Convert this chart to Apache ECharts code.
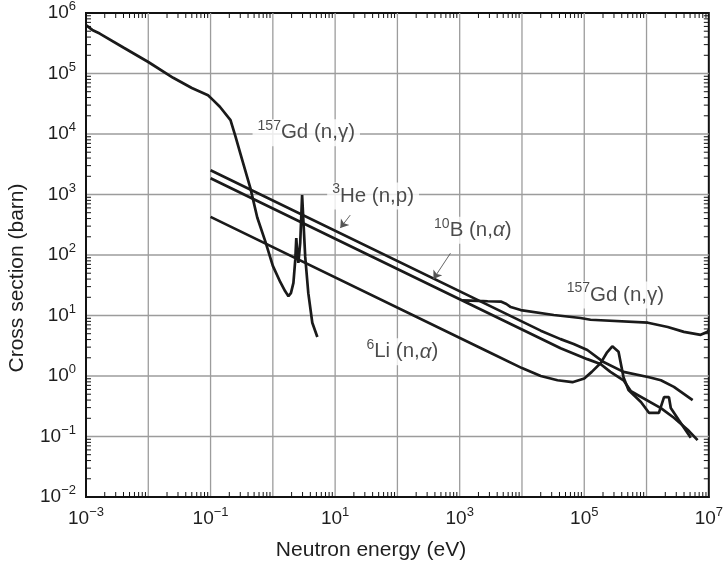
<!DOCTYPE html>
<html>
<head>
<meta charset="utf-8">
<script src="https://cdn.jsdelivr.net/npm/echarts@6/dist/echarts.min.js"></script>
<style>html,body{margin:0;padding:0;background:#fff}#c{width:726px;height:565px}</style>
</head>
<body>
<div id="c"></div>
<script>
// ---- Data (energy in eV, cross section in barn) ----
const gdLowE = [1e-3, 1.26e-3, 1.66e-3, 3.98e-3, 1e-2, 2.51e-2, 5.0e-2, 9.1e-2, 0.11, 0.141, 0.209, 0.251, 0.302, 0.437, 0.562, 0.759, 1.0, 1.32, 1.58, 1.78, 1.95, 2.14, 2.29, 2.38, 2.45, 2.57, 2.75, 2.95, 3.31, 3.71, 4.30, 5.18];
const gdLowS = [6.3e5, 5.25e5, 4.57e5, 2.69e5, 1.55e5, 8.5e4, 5.75e4, 4.37e4, 3.63e4, 2.82e4, 1.70e4, 9.1e3, 4.68e3, 1.26e3, 417, 166, 66, 35.5, 25.1, 20.9, 23.4, 34.7, 83, 190, 120, 74, 158, 977, 93, 23.4, 7.6, 4.4];

const gdHighE = [1100, 2.0e3, 2.82e3, 4.57e3, 5.62e3, 6.6e3, 9.55e3, 3.24e4, 8.7e4, 1.26e5, 1.05e6, 2.19e6, 3.98e6, 7.4e6, 9.55e6, 1e7];
const gdHighS = [17.8, 17.4, 17.2, 17.0, 15.5, 13.8, 12.3, 10.2, 9.1, 8.5, 7.6, 6.46, 5.37, 4.79, 5.37, 5.75];

const heE = [0.1, 2.0e4, 4.17e4, 6.76e4, 1.12e5, 2.04e5, 4.27e5, 1.10e6, 1.70e6, 2.75e6, 5.5e6];
const heS = [2510, 5.62, 4.07, 3.39, 2.69, 1.70, 1.17, 0.955, 0.851, 0.661, 0.398];

const bE = [0.1, 4.17e4, 1.12e5, 1.82e5, 2.63e5, 4.27e5, 5.62e5, 1.70e6, 2.75e6, 4.57e6, 6.6e6];
const bS = [1860, 2.88, 1.9, 1.58, 1.17, 0.85, 0.56, 0.295, 0.204, 0.129, 0.087];

const liE = [0.1, 3.16e3, 1e4, 2.0e4, 3.72e4, 6.46e4, 1e5, 1.32e5, 1.82e5, 2.29e5, 2.82e5, 3.55e5, 4.27e5, 5.13e5, 8.13e5, 1.10e6, 1.58e6, 1.91e6, 2.29e6, 2.45e6, 3.31e6, 5.13e6];
const liS = [427, 2.4, 1.35, 1.0, 0.85, 0.79, 0.91, 1.17, 1.62, 2.4, 3.09, 2.51, 0.955, 0.589, 0.372, 0.245, 0.245, 0.447, 0.447, 0.295, 0.186, 0.0955];

// annotation labels (positions in data units)
const annotE = [3.44, 40.7, 1622, 3.16e5, 120];
const annotS = [1.05e4, 944, 257, 21.9, 2.51];
const annotText = ['{s|157}{t|Gd (n,γ)}', '{s|3}{t|He (n,p)}', '{s|10}{t|B (n,}{i|α}{t|)}', '{s|157}{t|Gd (n,γ)}', '{s|6}{t|Li (n,}{i|α}{t|)}'];

// pointer lines [fromE, fromS, toE, toS]
const heArrow = [17.5, 457, 12.1, 279];
const bArrow = [711, 107, 379, 40.1];

// axis extents (decades)
const xMin = 1e-3, xMax = 1e7, yMin = 1e-2, yMax = 1e6;
const xDecades = [1e-3, 1e-2, 1e-1, 1, 10, 100, 1e3, 1e4, 1e5, 1e6, 1e7];
const yDecades = [1e-2, 1e-1, 1, 10, 100, 1e3, 1e4, 1e5, 1e6];
const xLabelDecades = [1e-3, 1e-1, 10, 1e3, 1e5, 1e7];
// minor tick multipliers
const minorMult = [2, 3, 4, 5, 6, 7, 8, 9];

function zip(a, b) { return a.map((v, i) => [v, b[i]]); }
function sup(e) { return e < 0 ? '\u2212' + Math.abs(e) : '' + e; }

const minorData = [];
xDecades.slice(0, -1).forEach(d => minorMult.forEach(k => minorData.push([k * d, 1, 0])));
yDecades.slice(0, -1).forEach(d => minorMult.forEach(k => minorData.push([1, k * d, 1])));
const gridData = [];
xDecades.slice(1, -1).forEach(d => gridData.push([d, 1, 0]));
yDecades.slice(1, -1).forEach(d => gridData.push([1, d, 1]));

const FONT = 'Liberation Sans, Arial, Helvetica, sans-serif';
const TXT = '#1e1e1e';
const LINE = '#1a1a1a';
const tickRich = {
  b: { fontSize: 19, fontFamily: FONT, color: TXT, lineHeight: 26 },
  s: { fontSize: 13, fontFamily: FONT, color: TXT, lineHeight: 13, verticalAlign: 'top' }
};
const annRich = {
  t: { fontSize: 20.5, fontFamily: FONT, color: TXT, lineHeight: 27 },
  i: { fontSize: 20.5, fontFamily: FONT, color: TXT, fontStyle: 'italic', lineHeight: 27 },
  s: { fontSize: 14, fontFamily: FONT, color: TXT, lineHeight: 14, verticalAlign: 'top' }
};

const lineSeries = (name, E, S) => ({
  name: name, type: 'line', data: zip(E, S), showSymbol: false, symbol: 'none',
  lineStyle: { color: LINE, width: 2.7 }, z: 3, silent: true, animation: false
});

function decadeLabel(v) {
  const e = Math.round(Math.log10(v));
  return '{b|10}{s|' + sup(e) + '}';
}

const chart = echarts.init(document.getElementById('c'), null, { renderer: 'canvas' });
chart.setOption({
  animation: false,
  backgroundColor: '#fff',
  grid: { left: 86, right: 17, top: 13, bottom: 68, show: true, borderColor: '#111', borderWidth: 2, backgroundColor: 'transparent' },
  xAxis: {
    type: 'log', logBase: 10, min: xMin, max: xMax,
    axisLine: { show: true, onZero: false, lineStyle: { color: '#111', width: 2 } },
    axisTick: { show: false },
    splitLine: { show: false },
    axisLabel: {
      margin: 9, rich: tickRich,
      customValues: xLabelDecades,
      formatter: decadeLabel
    }
  },
  yAxis: {
    type: 'log', logBase: 10, min: yMin, max: yMax,
    axisLine: { show: true, onZero: false, lineStyle: { color: '#111', width: 2 } },
    axisTick: { show: false },
    splitLine: { show: false },
    axisLabel: {
      margin: 10, rich: tickRich,
      customValues: yDecades,
      formatter: decadeLabel
    }
  },
  graphic: [
    { type: 'text', x: 17, y: 278, rotation: Math.PI / 2,
      style: { text: 'Cross section (barn)', textAlign: 'center', textVerticalAlign: 'middle', font: '21px ' + FONT, fill: TXT } },
    { type: 'text', x: 371, y: 550,
      style: { text: 'Neutron energy (eV)', textAlign: 'center', textVerticalAlign: 'middle', font: '21px ' + FONT, fill: TXT } }
  ],
  series: [
    {
      type: 'custom', name: 'gridLines', silent: true, z: 0, data: gridData,
      encode: { x: 0, y: 1 },
      renderItem: function (params, api) {
        const v0 = api.value(0), v1 = api.value(1), kind = api.value(2);
        const st = { stroke: '#9c9c9c', lineWidth: 1.3 };
        if (kind === 0) {
          const b = api.coord([v0, yMin]), t = api.coord([v0, yMax]);
          return { type: 'line', shape: { x1: b[0], y1: b[1], x2: t[0], y2: t[1] }, style: st };
        }
        const l = api.coord([xMin, v1]), r = api.coord([xMax, v1]);
        return { type: 'line', shape: { x1: l[0], y1: l[1], x2: r[0], y2: r[1] }, style: st };
      }
    },
    {
      type: 'custom', name: 'minorTicks', silent: true, z: 4, data: minorData,
      encode: { x: 0, y: 1 },
      renderItem: function (params, api) {
        const v0 = api.value(0), v1 = api.value(1), kind = api.value(2);
        const L = 5;
        const st = { stroke: '#111', lineWidth: 1 };
        if (kind === 0) {
          const b = api.coord([v0, yMin]), t = api.coord([v0, yMax]);
          return { type: 'group', children: [
            { type: 'line', shape: { x1: b[0], y1: b[1], x2: b[0], y2: b[1] - L }, style: st },
            { type: 'line', shape: { x1: t[0], y1: t[1], x2: t[0], y2: t[1] + L }, style: st }
          ] };
        }
        const l = api.coord([xMin, v1]), r = api.coord([xMax, v1]);
        return { type: 'group', children: [
          { type: 'line', shape: { x1: l[0], y1: l[1], x2: l[0] + L, y2: l[1] }, style: st },
          { type: 'line', shape: { x1: r[0], y1: r[1], x2: r[0] - L, y2: r[1] }, style: st }
        ] };
      }
    },
    {
      type: 'scatter', name: 'labels', symbolSize: 0, z: 1, silent: true,
      data: annotE.map((e, i) => ({
        value: [e, annotS[i]],
        label: { show: true, position: 'inside', formatter: annotText[i], rich: annRich,
          backgroundColor: '#fff', padding: [0, 5, 0, 5] }
      }))
    },
    lineSeries('157Gd low', gdLowE, gdLowS),
    lineSeries('157Gd high', gdHighE, gdHighS),
    lineSeries('3He', heE, heS),
    lineSeries('10B', bE, bS),
    lineSeries('6Li', liE, liS),
    {
      type: 'lines', coordinateSystem: 'cartesian2d', silent: true, z: 4,
      symbol: ['none', 'arrow'], symbolSize: 8,
      lineStyle: { color: '#555', width: 0.9, opacity: 1 },
      data: [
        { coords: [[heArrow[0], heArrow[1]], [heArrow[2], heArrow[3]]] },
        { coords: [[bArrow[0], bArrow[1]], [bArrow[2], bArrow[3]]] }
      ]
    }
  ]
});
</script>
</body>
</html>
